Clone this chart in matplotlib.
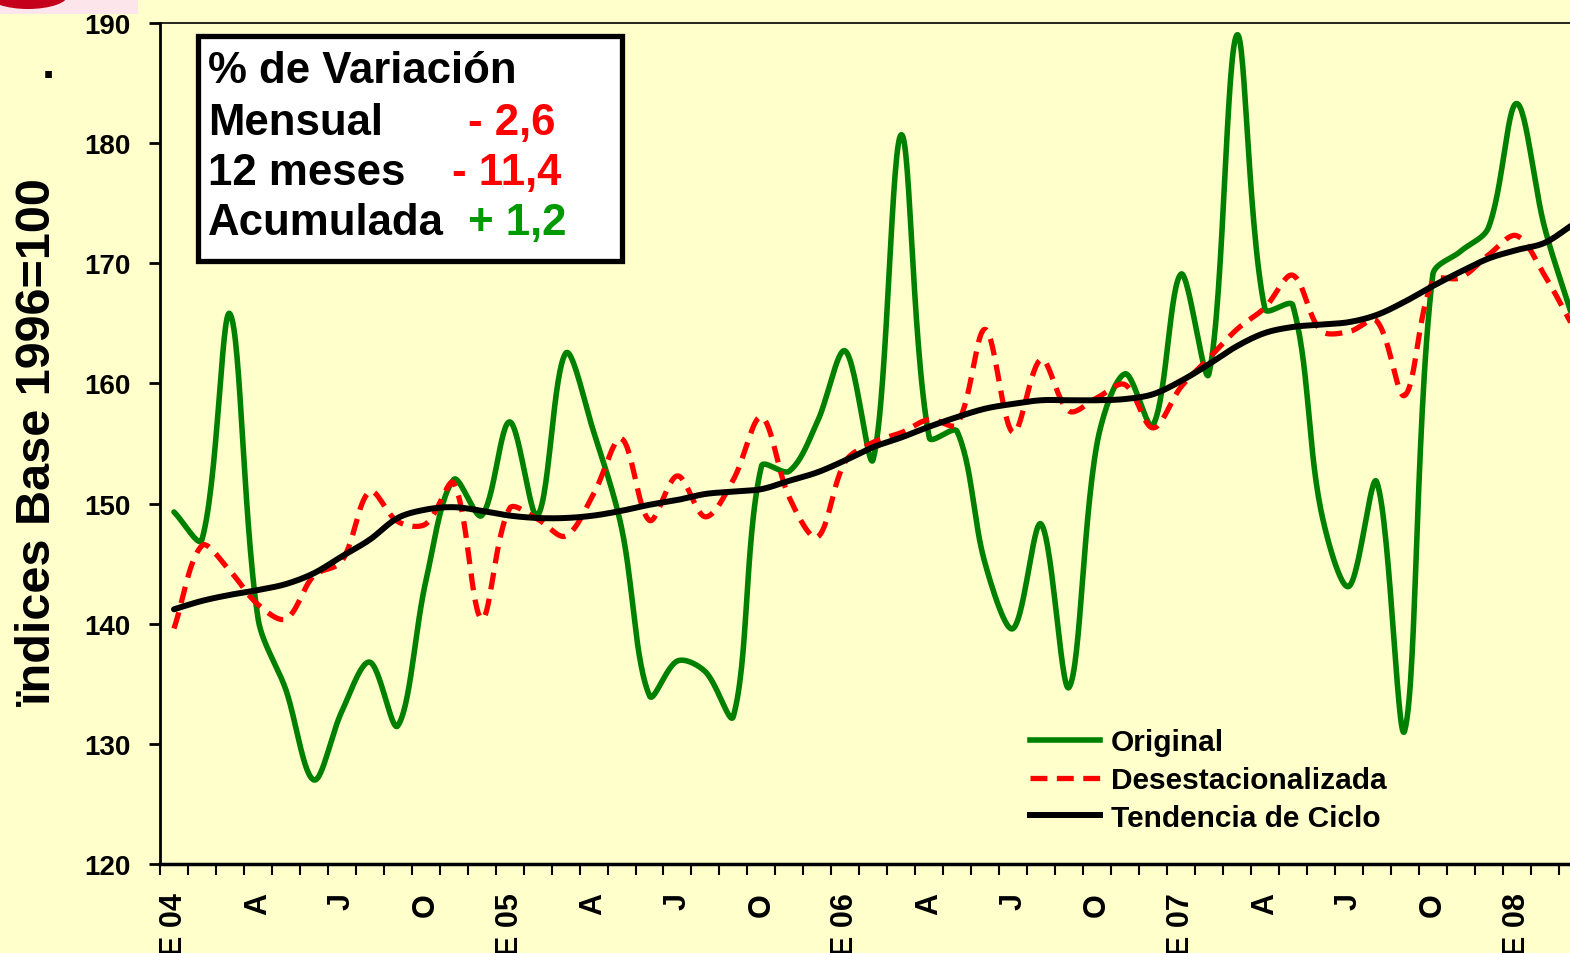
import numpy as np
import matplotlib
matplotlib.use("Agg")
import matplotlib.pyplot as plt
from matplotlib.patches import Rectangle, Ellipse
from matplotlib.lines import Line2D

plt.rcParams['font.family'] = ['Liberation Sans', 'DejaVu Sans']
plt.rcParams['font.weight'] = 'bold'

# ---------------- data ----------------
original = [149.3, 147.0, 165.8, 140.5, 134.5, 127.0, 132.7, 136.8, 131.5, 143.5,
            152.0, 149.0, 156.8, 149.0, 162.5, 156.0, 148.0, 134.0, 136.9, 136.0,
            132.3, 153.1, 152.7, 156.8, 162.7, 153.7, 180.7, 155.5, 156.0, 145.0,
            139.6, 148.3, 134.7, 155.0, 160.8, 156.5, 169.1, 160.8, 189.0, 166.2,
            166.5, 149.5, 143.1, 151.8, 131.1, 169.0, 171.0, 173.0, 183.3, 173.0,
            165.5]
desest = [139.6, 146.5, 144.4, 141.6, 140.4, 144.0, 145.2, 151.0, 148.5, 148.3,
          151.7, 140.4, 149.6, 148.7, 147.3, 150.8, 155.4, 148.6, 152.3, 148.9,
          152.0, 157.2, 150.5, 147.2, 153.5, 155.1, 155.9, 157.0, 156.6, 164.5,
          155.9, 162.0, 157.7, 158.8, 159.9, 156.3, 159.7, 162.1, 164.5, 166.3,
          169.0, 164.4, 164.3, 165.2, 159.0, 168.5, 168.8, 170.7, 172.3, 169.0,
          164.8]
tendencia = [141.2, 141.9, 142.4, 142.8, 143.3, 144.2, 145.6, 147.0, 148.8, 149.5,
             149.7, 149.4, 149.0, 148.8, 148.8, 149.0, 149.4, 149.9, 150.3, 150.8,
             151.0, 151.2, 151.9, 152.6, 153.6, 154.7, 155.5, 156.4, 157.2, 157.9,
             158.3, 158.6, 158.6, 158.6, 158.7, 159.1, 160.2, 161.6, 163.1, 164.2,
             164.7, 164.9, 165.1, 165.7, 166.8, 168.1, 169.3, 170.4, 171.1, 171.7,
             173.2]
tick_labels = ['E 04', 'A', 'J', 'O', 'E 05', 'A', 'J', 'O', 'E 06', 'A', 'J', 'O',
               'E 07', 'A', 'J', 'O', 'E 08']
series_names = ['Original', 'Desestacionalizada', 'Tendencia de Ciclo']
variacion_labels = ['Mensual', '12 meses', 'Acumulada']
variacion_values = ['- 2,6', '- 11,4', '+ 1,2']
variacion_colors = ['#FF0000', '#FF0000', '#009900']

# pixel scale of the plot (used only for the smoothing geometry)
PX_PER_MONTH = 27.96
PX_PER_UNIT = 12.01


def smooth(y, n=30):
    """Excel-like smoothed line: Bezier through the points with chord-weighted tangents."""
    y = np.asarray(y, float)
    x = np.arange(len(y), dtype=float)
    P = np.column_stack([x * PX_PER_MONTH, y * PX_PER_UNIT])
    out = []
    t = np.linspace(0, 1, n, endpoint=False)[:, None]
    for i in range(len(P) - 1):
        p0 = P[i - 1] if i > 0 else P[i]
        p1, p2 = P[i], P[i + 1]
        p3 = P[i + 2] if i + 2 < len(P) else P[i + 1]
        d01 = np.linalg.norm(p1 - p0)
        d12 = np.linalg.norm(p2 - p1)
        d23 = np.linalg.norm(p3 - p2)
        m1 = p2 - p0
        m2 = p3 - p1
        w1 = d12 / (d01 + d12) if (d01 + d12) > 0 else 0.5
        w2 = d12 / (d12 + d23) if (d12 + d23) > 0 else 0.5
        c1 = p1 + m1 * w1 / 3.0
        c2 = p2 - m2 * w2 / 3.0
        seg = ((1 - t) ** 3) * p1 + 3 * ((1 - t) ** 2) * t * c1 + 3 * (1 - t) * t ** 2 * c2 + t ** 3 * p2
        out.append(seg)
    out.append(P[-1:])
    out = np.vstack(out)
    return out[:, 0] / PX_PER_MONTH, out[:, 1] / PX_PER_UNIT


BG = '#FFFFCC'
W, H = 1570, 954
fig = plt.figure(figsize=(W / 100, H / 100), dpi=100, facecolor=BG)

L, R, T, B = 160, 1570, 24, 865
ax = fig.add_axes([L / W, 1 - B / H, (R - L) / W, (B - T) / H], facecolor=BG)

GREEN_LW, RED_LW, BLACK_LW = 4.0, 3.8, 4.3
DASH = (0, (3.2, 1.8))
xs, ys = smooth(original)
ax.plot(xs, ys, color='#008000', lw=GREEN_LW, solid_capstyle='round', solid_joinstyle='round',
        label=series_names[0])
xs, ys = smooth(desest)
ax.plot(xs, ys, color='#FF0000', lw=RED_LW, linestyle=DASH, label=series_names[1])
xs, ys = smooth(tendencia)
ax.plot(xs, ys, color='black', lw=BLACK_LW, solid_capstyle='round', label=series_names[2])

ax.set_ylim(120, 190)
ax.set_xlim(-0.5, 49.91)
ax.set_yticks(np.arange(120, 191, 10))
ax.tick_params(axis='y', direction='out', length=8, width=2, pad=13, labelsize=20)
for lab in ax.get_yticklabels():
    lab.set_fontweight('bold')

ax.set_xticks(np.arange(0, 49, 3))
ax.set_xticklabels(tick_labels, rotation=90, fontsize=22, fontweight='bold',
                   va='top', ha='center')
ax.set_xticks(np.arange(-0.5, 50.5, 1), minor=True)
ax.tick_params(axis='x', which='major', length=0, pad=20)
ax.tick_params(axis='x', which='minor', direction='out', length=8, width=1.5)

ax.spines['left'].set_linewidth(2)
ax.spines['bottom'].set_linewidth(2.5)
ax.spines['top'].set_linewidth(1.2)
ax.spines['right'].set_visible(False)

# legend
handles = [Line2D([], [], color='#008000', lw=GREEN_LW),
           Line2D([], [], color='#FF0000', lw=RED_LW, linestyle=DASH),
           Line2D([], [], color='black', lw=BLACK_LW)]
leg = ax.legend(handles, series_names, loc='center left',
                bbox_to_anchor=((1030 - L) / (R - L), (B - 781) / (B - T)),
                frameon=False, fontsize=21.5, handlelength=2.35, handletextpad=0.35,
                labelspacing=0.33, borderpad=0, borderaxespad=0)
for t in leg.get_texts():
    t.set_fontweight('bold')

# y label
fig.text(38 / W, 1 - 442 / H, 'ïndices Base 1996=100', rotation=90, fontsize=35,
         fontweight='bold', ha='center', va='center')
fig.text(48 / W, 1 - 66 / H, '.', fontsize=34, fontweight='bold', ha='center', va='center')

# variation box
box = Rectangle((198, H - 262), 424, 225, transform=None, facecolor='white',
                edgecolor='black', lw=3.8, zorder=5)
fig.patches.append(box)
fig.text(208 / W, 1 - 83 / H, '% de Variación', fontsize=31.5, fontweight='bold',
         va='baseline', ha='left', zorder=6)
base_y = [135, 185, 235]
val_x = [468, 452, 468]
for lab, val, col, by, vx in zip(variacion_labels, variacion_values, variacion_colors, base_y, val_x):
    fig.text(208 / W, 1 - by / H, lab, fontsize=31.5, fontweight='bold',
             va='baseline', ha='left', zorder=6)
    fig.text(vx / W, 1 - by / H, val, fontsize=31.5, fontweight='bold', color=col,
             va='baseline', ha='left', zorder=6)

# partial logo in the top-left corner
fig.patches.append(Rectangle((0, H - 15), 138, 15, transform=None,
                             facecolor='#FCE6EC', edgecolor='none', zorder=1))
ell = Ellipse((28, H + 4), 80, 28, transform=None, facecolor='#C4001A',
              edgecolor='none', zorder=2)
fig.patches.append(ell)

fig.savefig('out.png', dpi=100, facecolor=BG)
